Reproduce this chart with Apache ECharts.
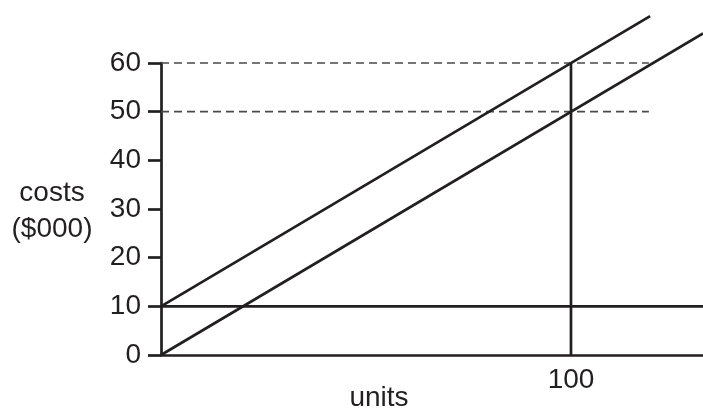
<!DOCTYPE html>
<html>
<head>
<meta charset="utf-8">
<script src="https://cdn.jsdelivr.net/npm/echarts@6/dist/echarts.min.js"></script>
<style>html,body{margin:0;padding:0;background:#fff}#c{width:703px;height:410px}</style>
</head>
<body>
<div id="c"></div>
<script>
const yTicks = [0, 10, 20, 30, 40, 50, 60];
const xTickLabels = [100];
const totalCost = [[0, 10], [119.3, 69.65]];
const variableCost = [[0, 0], [132.2, 66.1]];
const fixedCost = [[0, 10], [132.2, 10]];
const unitsMark = [[100, 0], [100, 60]];
const guide60 = [[0, 60], [119, 60]];
const guide50 = [[0, 50], [119, 50]];

const ink = '#231f20';
const font = '"Liberation Sans", Arial, Helvetica, sans-serif';
const solid = (name, data) => ({
  name, type: 'line', data, symbol: 'none', clip: false, silent: true,
  lineStyle: { color: ink, width: 2.7 }, z: 3
});
const dashed = (name, data) => ({
  name, type: 'line', data, symbol: 'none', clip: false, silent: true,
  lineStyle: { color: '#4a4a4a', width: 1.6, type: [8, 5] }, z: 2
});

const chart = echarts.init(document.getElementById('c'), null, { renderer: 'canvas' });
chart.setOption({
  animation: false,
  backgroundColor: '#fff',
  grid: { left: 161, right: 0, top: 63, bottom: 55, containLabel: false },
  xAxis: {
    type: 'value', min: 0, max: 132.2, interval: 100,
    axisLine: { show: true, lineStyle: { color: ink, width: 2.7 } },
    axisTick: { show: false },
    splitLine: { show: false },
    axisLabel: {
      showMaxLabel: false, margin: 11,
      color: ink, fontFamily: font, fontSize: 28,
      formatter: v => xTickLabels.includes(v) ? String(v) : ''
    }
  },
  yAxis: {
    type: 'value', min: yTicks[0], max: yTicks[yTicks.length - 1], interval: 10,
    axisLine: { show: true, lineStyle: { color: ink, width: 2.7 } },
    axisTick: { show: true, length: 13, inside: false, lineStyle: { color: ink, width: 2.7 } },
    splitLine: { show: false },
    axisLabel: { margin: 20, color: ink, fontFamily: font, fontSize: 28 }
  },
  graphic: [
    { type: 'text', x: 52, y: 211, style: {
      text: 'costs\n($000)', x: 0, y: 0, align: 'center', verticalAlign: 'middle',
      fill: ink, font: '28px ' + font, lineHeight: 36 } },
    { type: 'text', x: 379, y: 398, style: {
      text: 'units', x: 0, y: 0, align: 'center', verticalAlign: 'middle',
      fill: ink, font: '28px ' + font } }
  ],
  series: [
    dashed('guide60', guide60),
    dashed('guide50', guide50),
    solid('total', totalCost),
    solid('variable', variableCost),
    solid('fixed', fixedCost),
    solid('units', unitsMark)
  ]
});
</script>
</body>
</html>
